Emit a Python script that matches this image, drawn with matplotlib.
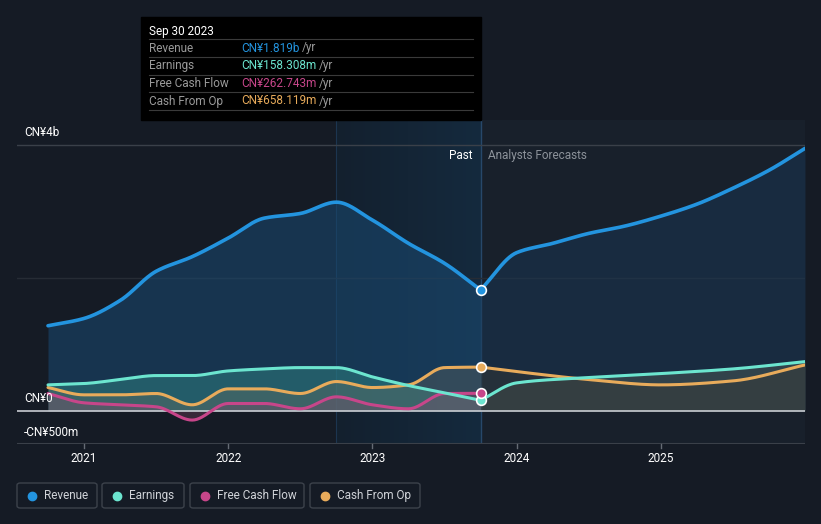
import numpy as np
import matplotlib
matplotlib.use("Agg")
import matplotlib.pyplot as plt
from matplotlib.patches import FancyBboxPatch, Rectangle

plt.rcParams['font.family'] = ['Roboto', 'DejaVu Sans']

# Data (CN¥ billions, decimal years)
past_x = [2020.75, 2021.0, 2021.25, 2021.5, 2021.75, 2022.0, 2022.25, 2022.5,
          2022.75, 2023.0, 2023.25, 2023.5, 2023.75]
fc_x = [2023.75, 2024.0, 2024.25, 2024.5, 2024.75, 2025.0, 2025.25, 2025.5, 2025.75, 2026.0]
fc_x_short = [2023.75, 2024.0, 2024.5, 2025.0, 2025.5, 2026.0]

revenue_past = [1.28, 1.39, 1.66, 2.10, 2.32, 2.60, 2.90, 2.97, 3.14, 2.87, 2.52, 2.22, 1.819]
revenue_fc = [1.819, 2.38, 2.52, 2.67, 2.78, 2.93, 3.11, 3.35, 3.62, 3.95]
earnings_past = [0.39, 0.41, 0.47, 0.53, 0.53, 0.60, 0.63, 0.65, 0.65, 0.51, 0.38, 0.27, 0.158]
earnings_fc = [0.158, 0.42, 0.50, 0.56, 0.63, 0.74]
fcf_past = [0.26, 0.12, 0.09, 0.06, -0.14, 0.11, 0.11, 0.03, 0.21, 0.09, 0.03, 0.26, 0.263]
cfo_past = [0.35, 0.24, 0.24, 0.26, 0.09, 0.33, 0.33, 0.26, 0.44, 0.35, 0.39, 0.65, 0.658]
cfo_fc = [0.658, 0.59, 0.47, 0.39, 0.45, 0.69]

years = [2021, 2022, 2023, 2024, 2025]
series_names = ["Revenue", "Earnings", "Free Cash Flow", "Cash From Op"]
tooltip_values = ["CN¥1.819b", "CN¥158.308m", "CN¥262.743m", "CN¥658.119m"]

BG = "#151b25"
C_REV = "#2394df"
C_EARN = "#6ce5cf"
C_FCF = "#c7468a"
C_CFO = "#e8ab5b"
colors = [C_REV, C_EARN, C_FCF, C_CFO]

W, H = 821, 524


def smooth(xs, ys, n=30):
    # monotone cubic (Fritsch-Carlson) used only to draw a rounded curve through the points
    x = np.asarray(xs, float)
    y = np.asarray(ys, float)
    h = np.diff(x)
    d = np.diff(y) / h
    m = np.zeros_like(y)
    m[0], m[-1] = d[0], d[-1]
    for i in range(1, len(y) - 1):
        if d[i - 1] * d[i] > 0:
            w1 = 2 * h[i] + h[i - 1]
            w2 = h[i] + 2 * h[i - 1]
            m[i] = (w1 + w2) / (w1 / d[i - 1] + w2 / d[i])
    out_x, out_y = [], []
    for i in range(len(x) - 1):
        t = np.linspace(0, 1, n, endpoint=(i == len(x) - 2))
        h00 = 2 * t**3 - 3 * t**2 + 1
        h10 = t**3 - 2 * t**2 + t
        h01 = -2 * t**3 + 3 * t**2
        h11 = t**3 - t**2
        out_x.append(x[i] + t * h[i])
        out_y.append(h00 * y[i] + h10 * h[i] * m[i] + h01 * y[i + 1] + h11 * h[i] * m[i + 1])
    return np.concatenate(out_x), np.concatenate(out_y)


fig = plt.figure(figsize=(W / 100, H / 100), dpi=100, facecolor=BG)


def fx(px):
    return px / W


def fy(py):
    return 1 - py / H


ax = fig.add_axes([fx(17), fy(444), fx(805) - fx(17), fy(120) - fy(444)])
ax.set_facecolor(BG)
ax.set_xlim(2020.535, 2026.0)
ax.set_ylim(-0.5, 4.377)
for s in ax.spines.values():
    s.set_visible(False)
ax.set_yticks([])
ax.set_xticks([])

# forecast region slightly lighter background
ax.axvspan(2023.75, 2026.0, color="#18202b", zorder=0, lw=0)

# past band gradient
grad = np.linspace(0, 1, 256).reshape(1, -1)
ax.imshow(grad, extent=[2022.75, 2023.75, -0.5, 4.377], aspect="auto",
          cmap=matplotlib.colors.LinearSegmentedColormap.from_list("g", ["#13202e", "#152a3e"]),
          zorder=0.5)
ax.axvline(2022.75, color="#1c3550", lw=0.8, zorder=0.6)
ax.axvline(2023.75, color="#27486a", lw=1.0, zorder=0.6)

# gridlines
ax.axhline(4.0, color="#3a4049", lw=1, zorder=1)
ax.axhline(2.0, color="#262c35", lw=1, zorder=1)
ax.axhline(-0.5, color="#3a4049", lw=1.5, zorder=1)

rp = smooth(past_x, revenue_past)
rf = smooth(fc_x, revenue_fc)
ep = smooth(past_x, earnings_past)
ef = smooth(fc_x_short, earnings_fc)
fp = smooth(past_x, fcf_past)
cp = smooth(past_x, cfo_past)
cf = smooth(fc_x_short, cfo_fc)

# fills
ax.fill_between(*rp, 0, color="#1a4a72", alpha=0.55, lw=0, zorder=2)
ax.fill_between(*rf, 0, color="#1a3a5a", alpha=0.45, lw=0, zorder=2)
ax.fill_between(*ep, 0, color="#3aa89a", alpha=0.35, lw=0, zorder=2.1)
ax.fill_between(*ef, 0, color="#50605a", alpha=0.45, lw=0, zorder=2.1)
ax.fill_between(*cp, 0, color="#8a7a60", alpha=0.25, lw=0, zorder=2.2)
ax.fill_between(*cf, 0, color="#3a3a32", alpha=0.4, lw=0, zorder=2.2)
ax.fill_between(*fp, 0, color="#8a4a6a", alpha=0.3, lw=0, zorder=2.3)

ax.axhline(0, color="#c8ccd2", lw=1.2, zorder=3)

# lines
ax.plot(*fp, color=C_FCF, lw=2.2, zorder=4, solid_capstyle="round")
ax.plot(*cp, color=C_CFO, lw=2.2, zorder=4.1, solid_capstyle="round")
ax.plot(*cf, color=C_CFO, lw=2.2, zorder=4.1, solid_capstyle="round")
ax.plot(*ep, color=C_EARN, lw=2.2, zorder=4.2, solid_capstyle="round")
ax.plot(*ef, color=C_EARN, lw=2.2, zorder=4.2, solid_capstyle="round")
ax.plot(*rp, color=C_REV, lw=2.6, zorder=4.3, solid_capstyle="round")
ax.plot(*rf, color=C_REV, lw=2.6, zorder=4.3, solid_capstyle="round")

# markers at Sep 30 2023
for val, c in [(revenue_past[-1], C_REV), (earnings_past[-1], C_EARN),
               (fcf_past[-1], C_FCF), (cfo_past[-1], C_CFO)]:
    ax.plot([2023.75], [val], 'o', ms=7, color=c, mec="white", mew=1.2, zorder=6)

# year ticks
for yr in years:
    ax.plot([yr, yr], [-0.5, -0.56], color="#666c75", lw=1, clip_on=False)
    ax.text(yr, -0.72, str(yr), color="white", fontsize=8.5, ha="center", va="center")

# y labels
fig.text(fx(24), fy(132), "CN¥4b", color="white", fontsize=8.5, va="center")
fig.text(fx(24), fy(399), "CN¥0", color="white", fontsize=8.5, va="center")
fig.text(fx(24), fy(432), "-CN¥500m", color="white", fontsize=8.5, va="center")

fig.text(fx(472), fy(156), "Past", color="white", fontsize=8.5, ha="right", va="center")
fig.text(fx(488), fy(156), "Analysts Forecasts", color="#8c929a", fontsize=8.5, va="center")

# tooltip
fig.patches.append(Rectangle((fx(141), fy(120)), fx(481) - fx(141), fy(17) - fy(120),
                             transform=fig.transFigure, color="black", zorder=10))
fig.text(fx(149), fy(31), "Sep 30 2023", color="white", fontsize=8.5, va="center", zorder=11)
row_y = [48, 66, 84, 101]
for i, (name, val, c) in enumerate(zip(series_names, tooltip_values, colors)):
    ln_y = fy(row_y[i] - 9)
    fig.add_artist(plt.Line2D([fx(149), fx(473)], [ln_y, ln_y], color="#3a3a3a", lw=0.8, zorder=11))
    fig.text(fx(149), fy(row_y[i]), name, color="#9a9a9a", fontsize=8.5, va="center", zorder=11)
    t = fig.text(fx(241), fy(row_y[i]), val, color=c, fontsize=8.5, va="center", zorder=11)
    fig.canvas.draw()
    bb = t.get_window_extent()
    fig.text(bb.x1 / W + fx(3), fy(row_y[i]), "/yr", color="#9a9a9a", fontsize=8.5, va="center", zorder=11)
ln_y = fy(110)
fig.add_artist(plt.Line2D([fx(149), fx(473)], [ln_y, ln_y], color="#3a3a3a", lw=0.8, zorder=11))

# legend boxes
boxes = [(17, 97), (102, 184), (190, 304), (310, 420)]
for (x0, x1), name, c in zip(boxes, series_names, colors):
    fig.patches.append(FancyBboxPatch((fx(x0), fy(508)), fx(x1) - fx(x0), fy(483) - fy(508),
                                      boxstyle="round,pad=0,rounding_size=0.004",
                                      transform=fig.transFigure, facecolor=BG,
                                      edgecolor="#3c424b", lw=1))
    fig.add_artist(plt.Line2D([fx(x0 + 15)], [fy(495.5)], marker='o', ms=6, color=c,
                              transform=fig.transFigure))
    fig.text(fx(x0 + 27), fy(495.5), name, color="#d0d3d8", fontsize=8.5, va="center")

fig.savefig("out.png", dpi=100, facecolor=BG)
